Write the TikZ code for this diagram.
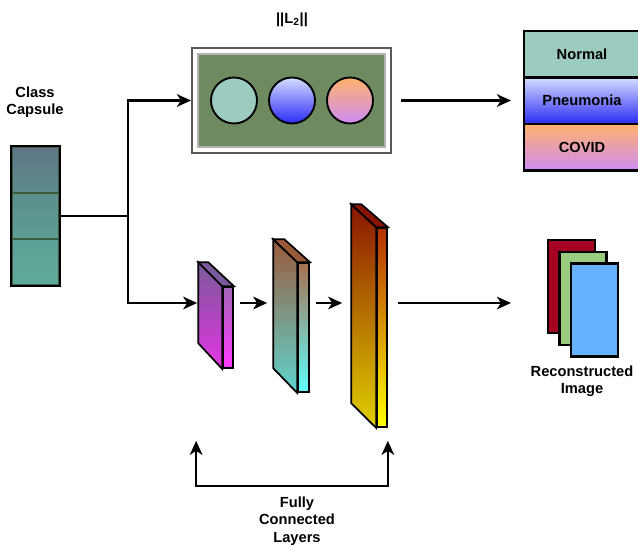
\documentclass[tikz,border=0pt]{standalone}
\usepackage{fontspec}
\setmainfont{Liberation Sans}
\usetikzlibrary{arrows.meta,calc}

\newcommand{\pxu}{0.75pt}
\definecolor{capsA}{HTML}{5F7585}
\definecolor{capsB}{HTML}{5C8C8C}
\definecolor{capsC}{HTML}{5FAA9A}
\definecolor{capsline}{HTML}{3B5B3B}
\definecolor{l2green}{HTML}{6E8A60}
\definecolor{normalc}{HTML}{9CCBC0}
\definecolor{pnA}{HTML}{D5DCFF}
\definecolor{pnB}{HTML}{2B2BF5}
\definecolor{cvA}{HTML}{FFB26B}
\definecolor{cvB}{HTML}{CE8CF5}
\definecolor{fcAsA}{HTML}{7B5A9A}
\definecolor{fcAsB}{HTML}{E235E2}
\definecolor{fcAfA}{HTML}{A366B5}
\definecolor{fcAfB}{HTML}{FF3AFF}
\definecolor{fcBsA}{HTML}{9A5A3A}
\definecolor{fcBsB}{HTML}{5FD5CF}
\definecolor{fcBfA}{HTML}{A87050}
\definecolor{fcBfB}{HTML}{5FFFFF}
\definecolor{fcCsA}{HTML}{8A1400}
\definecolor{fcCsB}{HTML}{E0D000}
\definecolor{fcCfA}{HTML}{B33000}
\definecolor{fcCfB}{HTML}{FFFF00}
\definecolor{recred}{HTML}{A50021}
\definecolor{recgreen}{HTML}{99CC7F}
\definecolor{recblue}{HTML}{66B2FF}

\begin{document}
\begin{tikzpicture}[x=0.75pt,y=-0.75pt,
    every node/.style={font=\bfseries\fontsize{11}{13}\selectfont},
    tip/.tip={Stealth[length=10.5pt,width=9.5pt,inset=3pt]},
    arr/.style={line width=1.6pt,-tip},
    cell/.style={draw=capsline,line width=1.2pt,minimum width=47*\pxu,minimum height=46*\pxu,inner sep=0pt},
    ball/.style={circle,draw,line width=1.4pt,minimum size=46*\pxu,inner sep=0pt},
    cls/.style={draw,line width=1.6pt,minimum width=116*\pxu,minimum height=46.5*\pxu,inner sep=0pt},
    fcfront/.style={draw,line width=1.3pt,inner sep=0pt,minimum width=10*\pxu},
    img/.style={draw,line width=1.6pt,inner sep=0pt,minimum width=47*\pxu,minimum height=93*\pxu}]
    \useasboundingbox (0,0) rectangle (638,547);
    \clip (0,0) rectangle (638,547);

    % class capsule
    \node[align=center] (captxt) at (35,102) {Class\\Capsule};
    \node[cell, top color=capsA, bottom color=capsB] (cap1) at (35.5,170) {};
    \node[cell, top color=capsB!95!capsC, bottom color=capsB!40!capsC] (cap2) at (35.5,216) {};
    \node[cell, top color=capsB!35!capsC, bottom color=capsC] (cap3) at (35.5,262) {};
    \draw[line width=1.6pt] (cap1.north west) rectangle (cap3.south east);
    \coordinate (jn) at (128,216);
    \draw[line width=1.6pt] (cap2.east) -- (jn);

    % length of the capsules
    \node (l2lbl) at (292,20) {||L\textsubscript{2}||};
    \node[draw=gray!70!black, line width=1.6pt, fill=white, minimum width=199*\pxu, minimum height=105*\pxu] (l2out) at (291.5,100.5) {};
    \node[draw=gray!60, line width=0.8pt, fill=l2green, minimum width=187*\pxu, minimum height=93*\pxu] (l2) at (291.5,100.5) {};
    \node[ball, fill=normalc] (b1) at (234,100.5) {};
    \node[ball, top color=pnA, bottom color=pnB] (b2) at (292,100.5) {};
    \node[ball, top color=cvA, bottom color=cvB] (b3) at (350,100.5) {};
    \draw[arr] (jn) |- (l2out.west);

    % classes
    \node[cls, fill=normalc] (normal) at (582,54.25) {Normal};
    \node[cls, top color=pnA, bottom color=pnB] (pneu) at (582,100.75) {Pneumonia};
    \node[cls, top color=cvA, bottom color=cvB] (covid) at (582,147.25) {COVID};
    \draw[arr] ($(l2out.east)+(9,0)$) -- ($(pneu.west |- l2out.east)+(-12,0)$);

    % fully connected layers
    \coordinate (lvl) at (0,303);
    \node[fcfront, minimum height=81*\pxu, top color=fcAfA, bottom color=fcAfB] (fc1) at (228,327.5) {};
    \shade[draw, line width=1.3pt, top color=fcAsA, bottom color=fcAsB] (fc1.north west) -- ++(-24,-24) -- ++(0,81) -- (fc1.south west) -- cycle;
    \filldraw[fill=fcAsA, line width=1.3pt] (fc1.north west) -- ++(-24,-24) -- ++(10,0) -- (fc1.north east) -- cycle;

    \node[fcfront, minimum width=11*\pxu, minimum height=129*\pxu, top color=fcBfA, bottom color=fcBfB] (fc2) at (303.5,327.5) {};
    \shade[draw, line width=1.3pt, top color=fcBsA, bottom color=fcBsB] (fc2.north west) -- ++(-24,-23) -- ++(0,129) -- (fc2.south west) -- cycle;
    \filldraw[fill=fcBsA, line width=1.3pt] (fc2.north west) -- ++(-24,-23) -- ++(11,0) -- (fc2.north east) -- cycle;

    \node[fcfront, minimum height=199*\pxu, top color=fcCfA, bottom color=fcCfB] (fc3) at (382,327.5) {};
    \shade[draw, line width=1.3pt, top color=fcCsA, bottom color=fcCsB] (fc3.north west) -- ++(-25,-23) -- ++(0,199) -- (fc3.south west) -- cycle;
    \filldraw[fill=fcCsA, line width=1.3pt] (fc3.north west) -- ++(-25,-23) -- ++(10,0) -- (fc3.north east) -- cycle;

    \draw[arr] (jn) |- ($(fc1.west |- lvl)+(-25,0)$);
    \draw[arr] ($(fc1.east |- lvl)+(6,0)$) -- ($(fc2.west |- lvl)+(-30,0)$);
    \draw[arr] ($(fc2.east |- lvl)+(6,0)$) -- ($(fc3.west |- lvl)+(-34,0)$);

    \coordinate (fcl) at ($(fc1.south west)+(-26,72)$);
    \coordinate (fcr) at ($(fc3.south east)+(0,13)$);
    \draw[line width=1.6pt, tip-tip] (fcl) -- ++(0,45) -| (fcr);
    \node[align=center] (fctxt) at (297,521) {Fully\\Connected\\Layers};

    % reconstruction
    \node[img, fill=recred] (recR) at (571.5,286.5) {};
    \node[img, fill=recgreen] (recG) at (583,298.5) {};
    \node[img, fill=recblue] (recB) at (594.5,310) {};
    \node[align=center] (rectxt) at (582,381) {Reconstructed\\Image};
    \draw[arr] ($(fc3.east |- lvl)+(10,0)$) -- ($(recR.west |- lvl)+(-36,0)$);
\end{tikzpicture}
\end{document}
